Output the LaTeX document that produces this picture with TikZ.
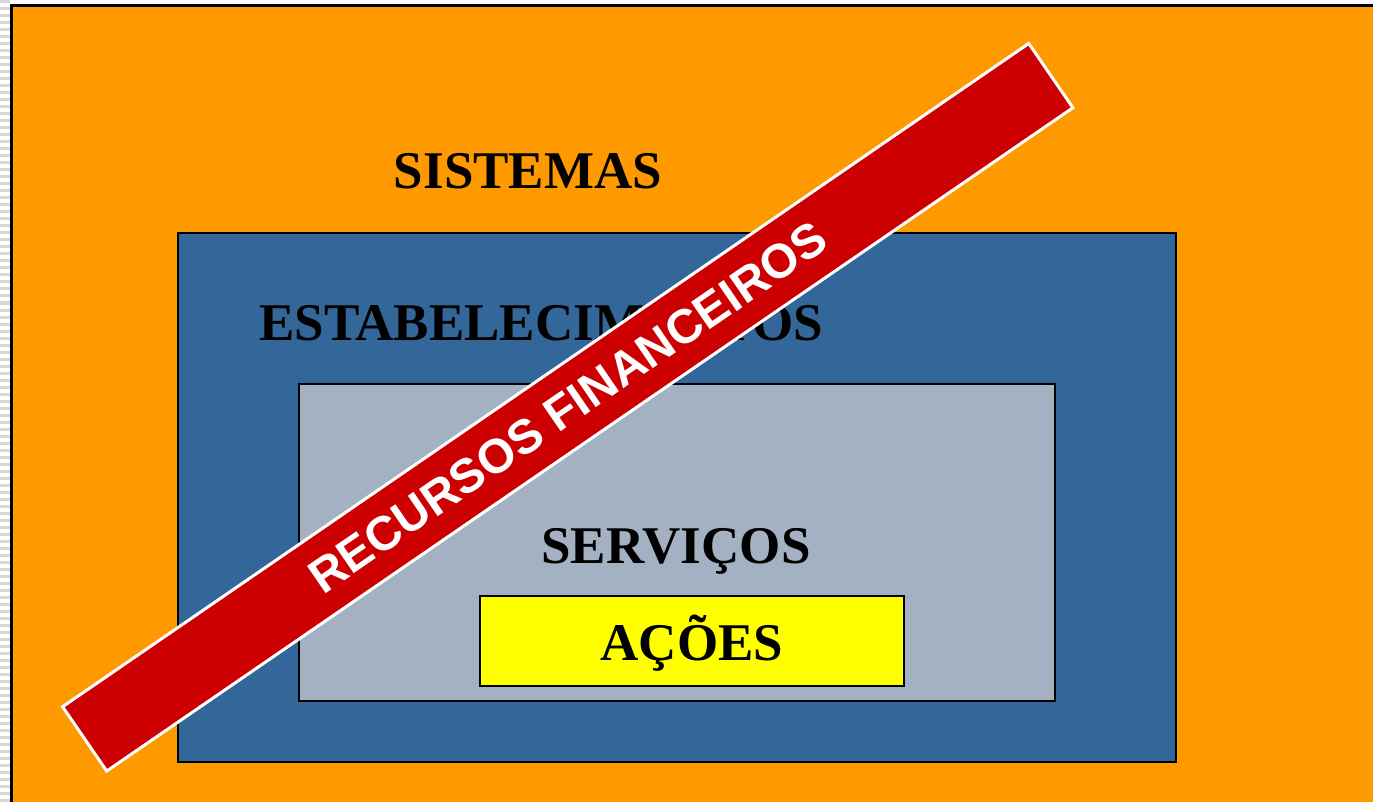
\documentclass[tikz,border=0pt]{standalone}
\usepackage{fontspec}
\setmainfont{Liberation Serif}
\newfontfamily\bannerfont{Liberation Sans}
\definecolor{sisorange}{HTML}{FF9900}
\definecolor{estblue}{HTML}{336699}
\definecolor{servgrey}{HTML}{A3B1C2}
\definecolor{acyellow}{HTML}{FFFF00}
\definecolor{recred}{HTML}{CC0000}
\definecolor{stripe}{HTML}{D8D8D8}
\tikzset{
  level/.style = {draw=black, line width=2.5pt},
  label/.style = {font=\fontsize{53}{60}\selectfont\bfseries, anchor=base, inner sep=0pt},
  banner/.style = {fill=recred, draw=white, line width=3pt, text=white,
    font=\bannerfont\fontsize{48}{52}\selectfont\bfseries,
    minimum width=1172pt, minimum height=78pt, inner sep=0pt}
}
\begin{document}
\begin{tikzpicture}[x=1pt, y=-1pt]
			\useasboundingbox (0,0) rectangle (1373,802);
			\clip (0,0) rectangle (1373,802);
			\fill[white] (0,0) rectangle (1373,802);
			\foreach \s in {2,9,...,802} {
				\draw[stripe, line width=3pt] (0,\s) -- (10,\s);
			}
			\filldraw[level, fill=sisorange, line width=3pt] (11.5,5.5) rectangle (1400,830);
			\filldraw[level, fill=estblue] (178,233) rectangle (1176,762);
			\filldraw[level, fill=servgrey] (299,384) rectangle (1055,701);
			\filldraw[level, fill=acyellow] (480,596) rectangle (904,686);
			\node[label] (sistemas) at (528,189) {SISTEMAS};
			\node[label] (estab) at (541,340) {ESTABELECIMENTOS};
			\node[label] (servicos) at (676,563) {SERVIÇOS};
			\node[label] (acoes) at (692,660) {AÇÕES};
			\node[banner, rotate=34.47] (recursos) at (567.75,407.25) {RECURSOS FINANCEIROS};
		\end{tikzpicture}
\end{document}
